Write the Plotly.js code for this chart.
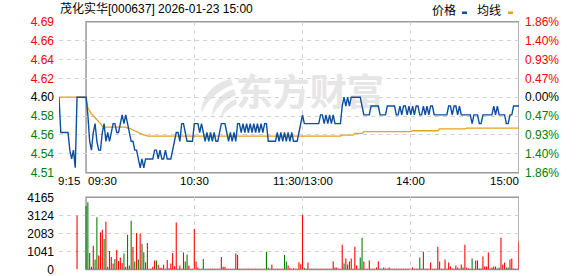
<!DOCTYPE html>
<html><head><meta charset="utf-8">
<script src="https://cdn.plot.ly/plotly-3.0.1.min.js"></script>
<style>html,body{margin:0;padding:0;background:#fff;}#chart{width:578px;height:276px;}</style>
</head><body><div id="chart"></div>
<script>
// ---------- data ----------
const chartTitle = '茂化实华[000637] 2026-01-23 15:00';
const prevClose = 4.60;
const maxPct = 1.86;
// price tick labels, bottom to top
const priceTickLabels = ['4.51','4.54','4.56','4.58','4.60','4.62','4.64','4.66','4.69'];
const pctTickLabels   = ['1.86%','1.40%','0.93%','0.47%','0.00%','0.47%','0.93%','1.40%','1.86%'];
const volTickLabels   = ['0','1041','2083','3124','4165'];
const volMax = 4165;
const timeLabels = ['9:15','09:30','10:30','11:30/13:00','14:00','15:00'];

// pre-market auction (9:15 - 9:25)
const preTimes = ['9:15','9:16','9:17','9:18','9:19','9:20','9:21','9:22','9:23','9:24','9:25'];
const prePrice = [4.60,4.56,4.56,4.56,4.56,4.56,4.54,4.53,4.54,4.52,4.60];
const preAvg   = [4.60,4.60,4.60,4.60,4.60,4.60,4.60,4.60,4.60,4.60,4.60];
const preVolTime = ['9:25'];
const preVol = [3094];
const preVolDir = ['R'];

// morning 9:30 - 11:30 (121 minutes)
const amPrice = [
4.60,4.58,4.55,4.54,4.56,4.57,4.55,4.54,4.54,4.56,
4.57,4.55,4.56,4.55,4.56,4.57,4.57,4.56,4.56,4.57,
4.58,4.57,4.58,4.57,4.56,4.55,4.55,4.54,4.54,4.53,
4.52,4.53,4.52,4.53,4.53,4.53,4.53,4.53,4.54,4.54,
4.53,4.54,4.53,4.53,4.54,4.53,4.53,4.53,4.54,4.55,
4.56,4.56,4.55,4.57,4.57,4.56,4.55,4.55,4.55,4.55,
4.57,4.57,4.57,4.56,4.57,4.56,4.55,4.56,4.55,4.56,
4.55,4.56,4.55,4.55,4.56,4.57,4.57,4.57,4.56,4.55,
4.56,4.55,4.56,4.55,4.57,4.57,4.56,4.57,4.56,4.57,
4.56,4.57,4.56,4.57,4.56,4.57,4.56,4.57,4.56,4.57,
4.57,4.55,4.55,4.55,4.55,4.55,4.56,4.55,4.56,4.55,
4.56,4.55,4.56,4.55,4.56,4.55,4.55,4.55,4.56,4.57,
4.58];
const amAvg = [
4.600,4.588,4.584,4.581,4.579,4.577,4.575,4.573,4.570,4.567,
4.566,4.566,4.566,4.566,4.566,4.566,4.566,4.566,4.566,4.566,
4.566,4.566,4.566,4.565,4.565,4.564,4.563,4.562,4.561,4.560,
4.559,4.558,4.557,4.557,4.556,4.556,4.556,4.556,4.556,4.556,
4.556,4.556,4.556,4.556,4.556,4.556,4.556,4.556,4.556,4.556,
4.556,4.556,4.556,4.556,4.556,4.556,4.556,4.556,4.556,4.556,
4.556,4.556,4.556,4.556,4.556,4.556,4.556,4.556,4.556,4.556,
4.556,4.556,4.556,4.556,4.556,4.556,4.556,4.556,4.556,4.556,
4.556,4.556,4.556,4.556,4.556,4.556,4.556,4.556,4.556,4.556,
4.556,4.556,4.556,4.556,4.556,4.556,4.556,4.556,4.556,4.556,
4.556,4.556,4.556,4.556,4.556,4.556,4.556,4.556,4.556,4.556,
4.556,4.556,4.556,4.556,4.556,4.556,4.556,4.556,4.556,4.556,
4.556];
const amVol = [
3667,3877,955,153,1375,573,3018,802,2139,2292,
1757,2750,153,1070,726,344,611,1146,497,688,
382,917,153,2006,229,2808,1299,458,2101,573,
2063,1490,993,420,1528,38,38,153,516,516,
267,95,95,267,38,554,76,344,955,191,
2712,38,229,38,974,458,860,229,38,38,
2330,458,115,38,40,611,40,40,40,40,
40,40,40,40,40,726,153,153,40,40,
40,40,40,917,840,40,40,40,40,40,
40,40,40,40,40,40,40,40,40,40,
1031,95,40,267,40,40,40,40,40,40,
840,458,229,76,38,76,40,40,420,306,
3151];
const amVolDir = [
'G','G','G','R','R','G','G','R','R','R',
'G','R','G','R','R','R','G','R','R','R',
'R','G','R','G','G','G','R','G','R','G',
'R','G','G','R','R','R','R','R','R','G',
'R','R','R','R','R','R','R','R','R','R',
'R','R','R','R','R','G','G','R','R','R',
'R','R','R','R','R','G','R','G','R','R',
'R','R','R','R','R','R','R','R','R','R',
'R','R','R','R','R','R','R','G','R','R',
'R','R','R','R','G','R','R','R','R','R',
'G','G','R','R','R','R','R','R','R','R',
'G','G','R','R','R','R','R','R','R','R',
'R'];

// afternoon 13:01 - 15:00 (120 minutes)
const pmPrice = [
4.57,4.57,4.57,4.57,4.57,4.57,4.57,4.57,4.57,4.58,
4.58,4.57,4.58,4.57,4.58,4.57,4.58,4.57,4.57,4.57,
4.57,4.59,4.60,4.59,4.60,4.59,4.60,4.60,4.60,4.60,
4.60,4.60,4.59,4.58,4.58,4.58,4.58,4.59,4.59,4.59,
4.59,4.59,4.58,4.58,4.58,4.58,4.59,4.59,4.59,4.59,
4.59,4.58,4.58,4.59,4.58,4.59,4.59,4.58,4.59,4.58,
4.59,4.58,4.59,4.59,4.58,4.58,4.59,4.58,4.59,4.58,
4.59,4.59,4.58,4.58,4.58,4.58,4.58,4.58,4.58,4.58,
4.59,4.59,4.58,4.59,4.59,4.58,4.59,4.58,4.58,4.58,
4.58,4.58,4.58,4.57,4.58,4.58,4.58,4.57,4.57,4.58,
4.58,4.58,4.58,4.58,4.58,4.59,4.58,4.59,4.58,4.58,
4.58,4.58,4.57,4.57,4.58,4.58,4.59,4.59,4.59,4.59];
const pmAvg = [
4.556,4.556,4.556,4.556,4.556,4.556,4.556,4.556,4.556,4.556,
4.556,4.556,4.556,4.556,4.556,4.556,4.556,4.556,4.556,4.556,
4.556,4.557,4.557,4.557,4.557,4.557,4.557,4.557,4.559,4.559,
4.559,4.559,4.559,4.561,4.561,4.561,4.561,4.561,4.561,4.561,
4.561,4.561,4.561,4.561,4.561,4.561,4.561,4.561,4.561,4.561,
4.561,4.561,4.561,4.561,4.561,4.561,4.561,4.561,4.561,4.561,
4.562,4.562,4.562,4.562,4.562,4.562,4.562,4.562,4.562,4.562,
4.562,4.562,4.562,4.562,4.562,4.564,4.564,4.564,4.564,4.564,
4.564,4.564,4.564,4.564,4.564,4.564,4.564,4.564,4.564,4.564,
4.565,4.565,4.565,4.565,4.565,4.565,4.565,4.565,4.565,4.565,
4.565,4.565,4.565,4.565,4.565,4.565,4.565,4.565,4.565,4.565,
4.565,4.565,4.565,4.565,4.565,4.565,4.565,4.565,4.565,4.565];
const pmVol = [
95,38,401,40,40,40,40,40,40,40,
40,40,40,40,40,40,458,115,115,40,
40,1433,344,630,287,458,630,40,1318,229,
40,688,1834,458,40,40,516,40,40,40,
115,458,57,40,115,57,40,115,40,40,
40,40,40,40,40,40,40,40,40,40,
115,40,40,40,688,40,1031,40,40,40,
401,40,40,40,1318,458,40,40,573,40,
401,172,57,40,229,115,40,287,115,1433,
115,57,40,630,40,516,516,57,57,745,
172,172,974,57,115,172,172,57,115,1834,
287,401,115,115,573,630,57,40,40,1604];
const pmVolDir = [
'G','G','R','R','R','R','R','R','R','R',
'R','R','R','R','R','R','R','R','R','R',
'R','R','G','R','G','R','R','R','R','R',
'R','G','G','R','R','R','R','R','R','R',
'R','R','G','G','R','R','R','R','R','R',
'R','R','R','R','R','R','R','R','R','R',
'R','R','R','R','G','R','R','R','R','R',
'R','R','R','R','R','R','R','R','R','R',
'R','R','R','R','R','R','R','R','G','R',
'R','R','R','G','R','R','R','R','G','R',
'R','R','R','R','R','R','G','R','G','R',
'R','R','G','G','R','R','R','R','R','R'];

// ---------- build ----------
function toX(t){ // minutes on the trading-time scale, 9:30 = 0, 13:01 = 121
  const p = t.split(':').map(Number); const m = p[0]*60 + p[1];
  return m <= 690 ? m - 570 : m - 780 + 120;
}
function pad(n){ return (n<10?'0':'') + n; }
const amTimes = amPrice.map((_, i) => { const m = 570 + i; return Math.floor(m/60) + ':' + pad(m%60); });
const pmTimes = pmPrice.map((_, i) => { const m = 781 + i; return Math.floor(m/60) + ':' + pad(m%60); });

const allTimes = preTimes.concat(amTimes, pmTimes);
const allX = allTimes.map(toX);
const allPrice = prePrice.concat(amPrice, pmPrice);
const allAvg = preAvg.concat(amAvg, pmAvg);

const volTimes = preVolTime.concat(amTimes, pmTimes);
const volX = volTimes.map(toX);
const allVol = preVol.concat(amVol, pmVol);
const allDir = preVolDir.concat(amVolDir, pmVolDir);
const RED = '#ff0000', GREEN = '#008000';
const volColors = allDir.map(d => d === 'R' ? RED : GREEN);

const xStart = toX('9:15'), xEnd = toX('15:00'), xOpen = toX('9:30');
const span = prevClose * maxPct / 100;
const yLo = prevClose - span, yHi = prevClose + span;
const priceTickVals = priceTickLabels.map((_, i) => yLo + i * span / 4);
const colorFor = (i) => i < 4 ? GREEN : (i === 4 ? '#000000' : RED);
const priceTickText = priceTickLabels.map((t, i) => `<span style="color:${colorFor(i)}">${t}</span>`);
const pctTickText = pctTickLabels.map((t, i) => `<span style="color:${colorFor(i)}">${t}</span>`);
const volTickVals = volTickLabels.map((_, i) => volMax * i / 4);

const W = 578, H = 276, L = 59, R = 59;
const px = x => (x - L) / (W - L - R);
const py = y => (H - y) / H;

const FONT = 'Liberation Sans, "Noto Sans CJK SC", sans-serif';
const GRID = '#d2d2d2';
const FRAME = '#9a9a9a';
const WM = '#e6e6e6';

const traces = [
  { // watermark (drawn first, beneath the lines)
    type: 'scatter', mode: 'text', x: [toX('13:04')], y: [prevClose],
    text: ['东方财富'], textposition: 'middle center',
    textfont: { family: '"Noto Sans CJK SC", sans-serif', size: 37, color: WM, weight: 700 },
    hoverinfo: 'skip', xaxis: 'x', yaxis: 'y', cliponaxis: false
  },
  {
    type: 'scatter', mode: 'lines', x: allX, y: allAvg, name: '均线',
    line: { color: '#e3a21c', width: 1.3 }, xaxis: 'x', yaxis: 'y', hoverinfo: 'skip'
  },
  {
    type: 'scatter', mode: 'lines', x: allX, y: allPrice, name: '价格',
    line: { color: '#0c4fa2', width: 1.4 }, xaxis: 'x', yaxis: 'y', hoverinfo: 'skip'
  },
  { // carrier for the right-hand percentage axis
    type: 'scatter', mode: 'none', x: [xOpen], y: [prevClose], xaxis: 'x', yaxis: 'y2', hoverinfo: 'skip'
  },
  {
    type: 'bar', x: volX, y: allVol, marker: { color: volColors, line: { width: 0 } },
    width: 0.6, xaxis: 'x2', yaxis: 'y3', hoverinfo: 'skip'
  }
];

const yPriceDom = [py(172.7), py(21.7)];
const yVolDom = [py(269.5), py(197.3)];

const layout = {
  width: W, height: H,
  margin: { l: L, r: R, t: 0, b: 0, pad: 0 },
  paper_bgcolor: '#ffffff', plot_bgcolor: 'rgba(0,0,0,0)',
  showlegend: false,
  font: { family: FONT, size: 12, color: '#000' },
  xaxis: {
    domain: [0, 1], anchor: 'y', range: [xStart, xEnd],
    tickvals: [toX('10:30'), toX('11:30'), toX('14:00')], showticklabels: false, ticks: '',
    showgrid: true, gridcolor: GRID, griddash: '4px,4px', gridwidth: 1,
    zeroline: false, showline: false, fixedrange: true
  },
  yaxis: {
    domain: yPriceDom, anchor: 'x', range: [yLo, yHi],
    tickvals: priceTickVals, ticktext: priceTickText, ticks: '', ticklabelstandoff: 4,
    tickfont: { size: 12, family: FONT }, ticklabeloverflow: 'allow',
    showgrid: true, gridcolor: GRID, griddash: '4px,4px', gridwidth: 1,
    zeroline: false, showline: false, fixedrange: true
  },
  yaxis2: {
    overlaying: 'y', side: 'right', anchor: 'x', range: [yLo, yHi],
    tickvals: priceTickVals, ticktext: pctTickText, ticks: '', ticklabelstandoff: 5,
    tickfont: { size: 12, family: FONT }, ticklabeloverflow: 'allow',
    showgrid: false, zeroline: false, showline: false, fixedrange: true
  },
  xaxis2: {
    domain: [0, 1], anchor: 'y3', range: [xStart, xEnd],
    tickvals: [toX('10:30'), toX('11:30'), toX('14:00')], showticklabels: false, ticks: '',
    showgrid: true, gridcolor: GRID, griddash: '4px,4px', gridwidth: 1,
    zeroline: false, showline: false, fixedrange: true
  },
  yaxis3: {
    domain: yVolDom, anchor: 'x2', range: [0, volMax],
    tickvals: volTickVals, ticktext: volTickLabels, ticks: '', ticklabelstandoff: 4,
    tickfont: { size: 12, family: FONT, color: '#000' }, ticklabeloverflow: 'allow',
    showgrid: true, gridcolor: GRID, griddash: '4px,4px', gridwidth: 1,
    zeroline: false, showline: false, fixedrange: true
  },
  shapes: [
    { type: 'rect', xref: 'x', yref: 'y domain', x0: xOpen, x1: xEnd, y0: 0, y1: 1,
      line: { color: FRAME, width: 1.5 }, fillcolor: 'rgba(0,0,0,0)', layer: 'below' },
    { type: 'rect', xref: 'x2', yref: 'y3 domain', x0: xOpen, x1: xEnd, y0: 0, y1: 1,
      line: { color: FRAME, width: 1.5 }, fillcolor: 'rgba(0,0,0,0)', layer: 'below' },
    // watermark logo blades
    { type: 'path', xref: 'paper', yref: 'paper', layer: 'below', line: { width: 0 }, fillcolor: WM,
      path: `M ${px(231)} ${py(79)} C ${px(214)} ${py(82)} ${px(202)} ${py(96)} ${px(201)} ${py(113)} C ${px(208)} ${py(100)} ${px(218)} ${py(90)} ${px(233)} ${py(85)} Z` },
    { type: 'path', xref: 'paper', yref: 'paper', layer: 'below', line: { width: 0 }, fillcolor: WM,
      path: `M ${px(234)} ${py(89)} C ${px(221)} ${py(93)} ${px(212)} ${py(103)} ${px(212)} ${py(117)} C ${px(217)} ${py(106)} ${px(225)} ${py(99)} ${px(236)} ${py(95)} Z` },
    { type: 'path', xref: 'paper', yref: 'paper', layer: 'below', line: { width: 0 }, fillcolor: WM,
      path: `M ${px(236)} ${py(99)} C ${px(227)} ${py(102)} ${px(221)} ${py(109)} ${px(221)} ${py(118)} C ${px(226)} ${py(111)} ${px(231)} ${py(107)} ${px(237)} ${py(104)} Z` },
    // legend swatches
    { type: 'rect', xref: 'paper', yref: 'paper', x0: px(462), x1: px(467), y0: py(14), y1: py(11.5),
      line: { width: 0 }, fillcolor: '#0c4fa2', layer: 'above' },
    { type: 'rect', xref: 'paper', yref: 'paper', x0: px(508), x1: px(513), y0: py(14), y1: py(11.5),
      line: { width: 0 }, fillcolor: '#e3a21c', layer: 'above' }
  ],
  annotations: [
    { text: chartTitle, xref: 'paper', yref: 'paper', x: 0, y: py(8.5), xanchor: 'left', yanchor: 'middle',
      showarrow: false, font: { size: 12, family: FONT, color: '#000' }, borderpad: 0 },
    { text: '价格', xref: 'paper', yref: 'paper', x: px(431), y: py(9), xanchor: 'left', yanchor: 'middle',
      showarrow: false, font: { size: 12, family: '"Noto Sans CJK SC", sans-serif', color: '#000' }, borderpad: 0 },
    { text: '均线', xref: 'paper', yref: 'paper', x: px(476), y: py(9), xanchor: 'left', yanchor: 'middle',
      showarrow: false, font: { size: 12, family: '"Noto Sans CJK SC", sans-serif', color: '#000' }, borderpad: 0 },
    { text: timeLabels[0], xref: 'x', yref: 'paper', x: xStart, xshift: -2, y: py(181.5), xanchor: 'left', yanchor: 'middle',
      showarrow: false, font: { size: 11.5 }, borderpad: 0 },
    { text: timeLabels[1], xref: 'x', yref: 'paper', x: xOpen, xshift: 1, y: py(181.5), xanchor: 'left', yanchor: 'middle',
      showarrow: false, font: { size: 11.5 }, borderpad: 0 },
    { text: timeLabels[2], xref: 'x', yref: 'paper', x: toX('10:30'), y: py(181.5), xanchor: 'center', yanchor: 'middle',
      showarrow: false, font: { size: 11.5 }, borderpad: 0 },
    { text: timeLabels[3], xref: 'x', yref: 'paper', x: toX('11:30'), y: py(181.5), xanchor: 'center', yanchor: 'middle',
      showarrow: false, font: { size: 11.5 }, borderpad: 0 },
    { text: timeLabels[4], xref: 'x', yref: 'paper', x: toX('14:00'), y: py(181.5), xanchor: 'center', yanchor: 'middle',
      showarrow: false, font: { size: 11.5 }, borderpad: 0 },
    { text: timeLabels[5], xref: 'x', yref: 'paper', x: xEnd, xshift: 1, y: py(181.5), xanchor: 'right', yanchor: 'middle',
      showarrow: false, font: { size: 11.5 }, borderpad: 0 }
  ]
};

Plotly.newPlot('chart', traces, layout, { staticPlot: true, displayModeBar: false });
</script>
</body></html>
